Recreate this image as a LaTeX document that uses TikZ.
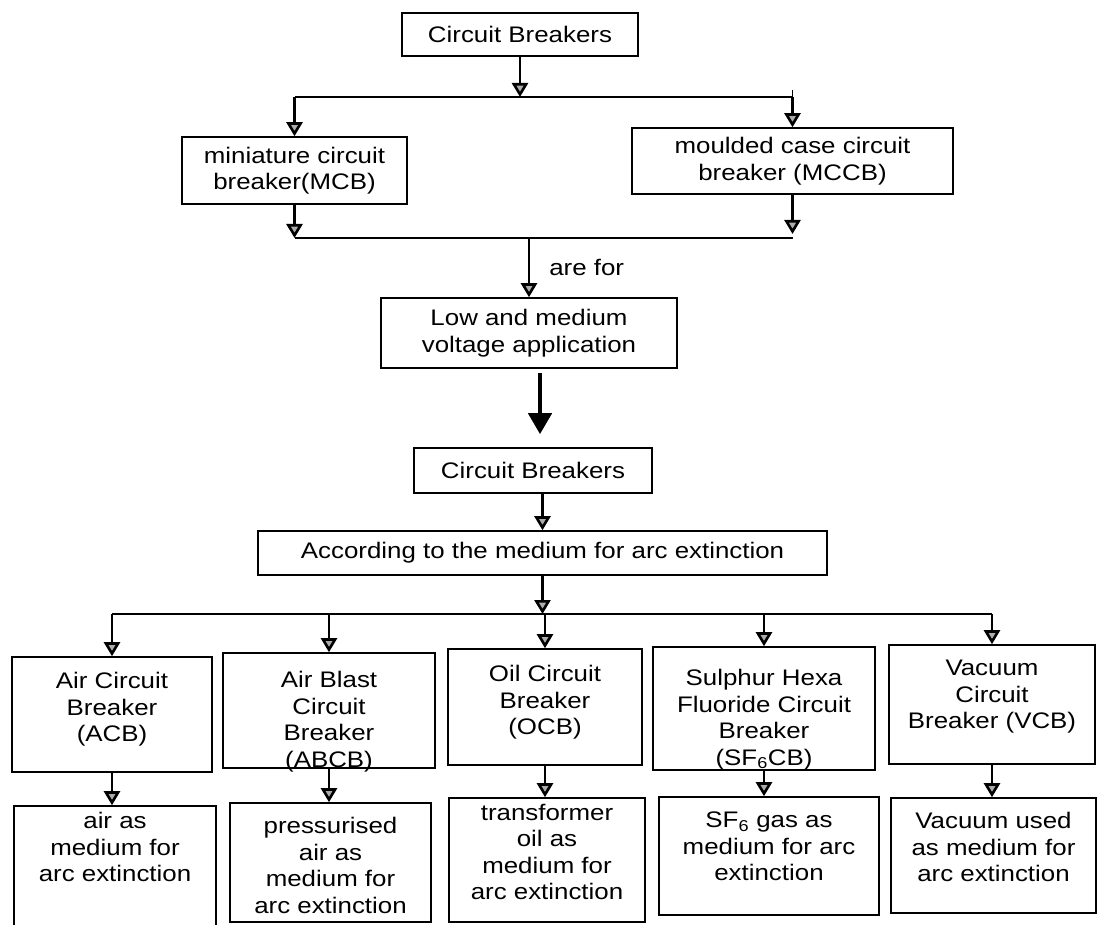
\documentclass[tikz,border=0pt]{standalone}
\usepackage{fontspec}
\setmainfont{Liberation Sans}[FakeStretch=1.15]
\usetikzlibrary{arrows.meta,calc}
\begin{document}
\begin{tikzpicture}[x=1pt,y=-1pt,
  box/.style={draw, line width=1.6pt, inner sep=0pt},
  txt/.style={font=\fontsize{22.5}{26.5}\selectfont, align=center, inner sep=0pt},
  arr/.style={draw=black, line width=2.6pt, -{Triangle[width=16pt, length=14pt, fill=gray!65]}},
  bigarr/.style={draw, line width=4.5pt, -{Triangle[width=23pt,length=21pt]}},
  bus/.style={draw, line width=1.8pt}]
\useasboundingbox (0,0) rectangle (1098,925);

% upper part
\node[box, txt, minimum width=236pt, minimum height=43pt] (cb1) at (520,34.5) {Circuit Breakers};
\node[box, txt, minimum width=225pt, minimum height=67pt] (mcb) at (294.5,170.5) {miniature circuit\\breaker(MCB)};
\node[box, txt, minimum width=321pt, minimum height=66pt] (mccb) at (792.5,161) {moulded case circuit\\breaker (MCCB)};
\node[box, txt, minimum width=296pt, minimum height=70pt] (low) at (529,333) {Low and medium\\voltage application};
\node[box, txt, minimum width=238pt, minimum height=45pt] (cb2) at (533,470.5) {Circuit Breakers};
\node[box, txt, minimum width=569pt, minimum height=44pt] (acc) at (542.5,553) {According to the medium for arc extinction};

\coordinate (b1) at (0,97);
\coordinate (b2) at (0,238);
\coordinate (b3) at (0,614);

\draw[arr] (cb1.south) -- (cb1.south |- b1);
\draw[bus] (mcb.north |- b1) -- (mccb.north |- b1) -- ++(0,-7);
\draw[arr] (mcb.north |- b1) -- (mcb.north);
\draw[arr] (mccb.north |- b1) -- (mccb.north);
\draw[arr] (mcb.south) -- (mcb.south |- b2);
\draw[arr] (mccb.south) -- ([yshift=4pt]mccb.south |- b2);
\draw[bus] (mcb.south |- b2) -- (mccb.south |- b2);
\draw[arr] (low.north |- b2) -- (low.north) node[txt, midway, anchor=west, xshift=19pt] (arefor) {are for};
\draw[bigarr] ([xshift=11pt,yshift=-4pt]low.south) -- ([xshift=7pt,yshift=13pt]cb2.north);
\draw[arr] (acc.north |- cb2.south) -- (acc.north);

% first row of types
\node[box, minimum width=200pt, minimum height=115pt] (acb) at (112,714.5) {};
\node[box, minimum width=212pt, minimum height=115pt] (abcb) at (329,710.5) {};
\node[box, minimum width=194pt, minimum height=116pt] (ocb) at (545,707) {};
\node[box, minimum width=222pt, minimum height=123pt] (sf) at (764,708.5) {};
\node[box, minimum width=206pt, minimum height=119pt] (vcb) at (992,704.5) {};

\node[txt, anchor=north] (acbt) at (112,672) {Air Circuit\\Breaker\\(ACB)};
\node[txt, anchor=north] (abcbt) at (329,671) {Air Blast\\Circuit\\Breaker\\(ABCB)};
\node[txt, anchor=north] (ocbt) at (545,665) {Oil Circuit\\Breaker\\(OCB)};
\node[txt, anchor=north] (sft) at (764,669) {Sulphur Hexa\\Fluoride Circuit\\Breaker\\(SF\textsubscript{6}CB)};
\node[txt, anchor=north] (vcbt) at (992,660) {Vacuum\\Circuit\\Breaker (VCB)};

% second row
\node[box, minimum width=202pt, minimum height=129pt] (acb2) at (115,870.5) {};
\node[box, minimum width=201pt, minimum height=119pt] (abcb2) at (330.5,862.5) {};
\node[box, minimum width=196pt, minimum height=124pt] (ocb2) at (547,860) {};
\node[box, minimum width=220pt, minimum height=118pt] (sf2) at (769,856) {};
\node[box, minimum width=205pt, minimum height=115pt] (vcb2) at (993.5,855.5) {};

\node[txt, anchor=north] (acb2t) at (115,812) {air as\\medium for\\arc extinction};
\node[txt, anchor=north] (abcb2t) at (330.5,817) {pressurised\\air as\\medium for\\arc extinction};
\node[txt, anchor=north] (ocb2t) at (547,804) {transformer\\oil as\\medium for\\arc extinction};
\node[txt, anchor=north] (sf2t) at (769,812) {SF\textsubscript{6} gas as\\medium for arc\\extinction};
\node[txt, anchor=north] (vcb2t) at (993.5,812) {Vacuum used\\as medium for\\arc extinction};

% connectors lower part
\draw[arr] (acc.south) -- (acc.south |- b3);
\draw[bus] (acb.north |- b3) -- (vcb.north |- b3);
\foreach \n in {acb,abcb,ocb,sf,vcb} {
  \draw[arr] (\n.north |- b3) -- (\n.north);
}
\draw[arr] (acb.south) -- (acb.south |- acb2.north);
\draw[arr] (abcb.south) -- (abcb.south |- abcb2.north);
\draw[arr] (ocb.south) -- (ocb.south |- ocb2.north);
\draw[arr] (sf.south) -- (sf.south |- sf2.north);
\draw[arr] (vcb.south) -- (vcb.south |- vcb2.north);
\end{tikzpicture}
\end{document}
